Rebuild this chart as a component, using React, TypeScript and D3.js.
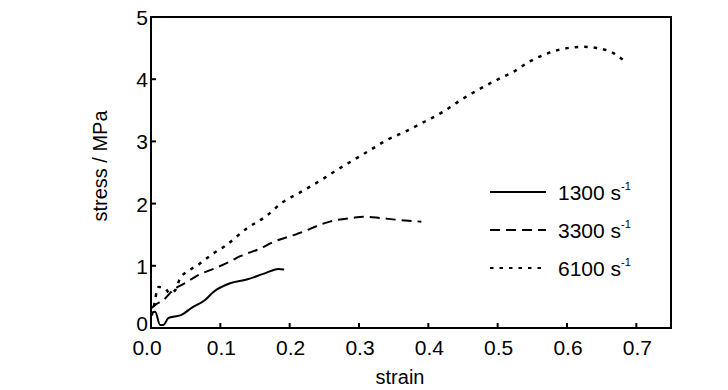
import React, { useEffect, useRef } from "react";
import * as d3 from "d3";

// strain / stress (MPa) readings per strain rate
const strain1300 = [0, 0.006, 0.013, 0.018, 0.025, 0.032, 0.044, 0.058, 0.078, 0.09, 0.114, 0.138, 0.162, 0.184, 0.192];
const stress1300 = [0.24, 0.26, 0.05, 0.05, 0.16, 0.18, 0.21, 0.32, 0.45, 0.58, 0.72, 0.78, 0.87, 0.95, 0.94];

const strain3300 = [0.001, 0.006, 0.018, 0.032, 0.049, 0.068, 0.09, 0.114, 0.128, 0.162, 0.172, 0.21, 0.22, 0.244, 0.258, 0.29, 0.306, 0.33, 0.355, 0.39];
const stress3300 = [0.32, 0.37, 0.45, 0.61, 0.72, 0.85, 0.95, 1.07, 1.15, 1.30, 1.36, 1.51, 1.55, 1.66, 1.71, 1.77, 1.79, 1.77, 1.74, 1.71];

const strain6100 = [0.001, 0.003, 0.011, 0.02, 0.027, 0.035, 0.042, 0.051, 0.066, 0.09, 0.107, 0.138, 0.165, 0.191, 0.215, 0.244, 0.268, 0.292, 0.316, 0.34, 0.369, 0.395, 0.422, 0.446, 0.472, 0.499, 0.523, 0.547, 0.571, 0.595, 0.624, 0.643, 0.667, 0.681];
const stress6100 = [0.2, 0.29, 0.66, 0.64, 0.56, 0.61, 0.80, 0.90, 1.0, 1.2, 1.32, 1.60, 1.79, 2.03, 2.18, 2.37, 2.54, 2.70, 2.86, 3.02, 3.17, 3.32, 3.48, 3.66, 3.83, 3.99, 4.12, 4.29, 4.41, 4.49, 4.52, 4.50, 4.42, 4.31];

const seriesNames = ["1300", "3300", "6100"];
const xTicks = [0, 0.1, 0.2, 0.3, 0.4, 0.5, 0.6, 0.7];
const yTicks = [0, 1, 2, 3, 4, 5];

const App = () => {
  const ref = useRef<SVGSVGElement>(null);

  useEffect(() => {
    const svg = d3.select(ref.current);
    svg.selectAll("*").remove();

    const width = 728;
    const height = 390;
    const margin = { top: 17, right: 57, bottom: 62, left: 151 };
    const font = "'Liberation Sans', Arial, sans-serif";

    const x = d3.scaleLinear().domain([0, 0.75]).range([margin.left, width - margin.right]);
    const y = d3.scaleLinear().domain([0, 5]).range([height - margin.bottom, margin.top]);

    svg
      .attr("width", width)
      .attr("height", height)
      .style("position", "absolute")
      .style("left", "0px")
      .style("top", "0px")
      .style("background", "#fff");

    const series = [
      { name: seriesNames[0], xs: strain1300, ys: stress1300, dash: null, w: 2 },
      { name: seriesNames[1], xs: strain3300, ys: stress3300, dash: "10,6", w: 2 },
      { name: seriesNames[2], xs: strain6100, ys: stress6100, dash: "3.5,6", w: 2.5 },
    ];

    const line = d3
      .line<[number, number]>()
      .x(d => x(d[0]))
      .y(d => y(d[1]))
      .curve(d3.curveMonotoneX);

    series.forEach(s => {
      const pts = s.xs.map((v, i) => [v, s.ys[i]] as [number, number]);
      svg
        .append("path")
        .attr("d", line(pts))
        .attr("fill", "none")
        .attr("stroke", "#000")
        .attr("stroke-width", s.w)
        .attr("stroke-dasharray", s.dash);
    });

    // frame
    svg
      .append("rect")
      .attr("x", x(0))
      .attr("y", y(5))
      .attr("width", x(0.75) - x(0))
      .attr("height", y(0) - y(5))
      .attr("fill", "none")
      .attr("stroke", "#000")
      .attr("stroke-width", 2);

    // x ticks
    const xt = svg.append("g");
    xTicks.forEach(t => {
      if (t > 0) {
        xt.append("line")
          .attr("x1", x(t)).attr("x2", x(t))
          .attr("y1", y(0)).attr("y2", y(0) - 5)
          .attr("stroke", "#000").attr("stroke-width", 2);
      }
      xt.append("text")
        .attr("x", t === 0 ? x(t) - 4 : x(t) + 1)
        .attr("y", y(0) + 27)
        .attr("text-anchor", "middle")
        .attr("font-family", font)
        .attr("font-size", 21)
        .text(t.toFixed(1));
    });

    // y ticks
    const yt = svg.append("g");
    yTicks.forEach(t => {
      if (t > 0 && t < 5) {
        yt.append("line")
          .attr("x1", x(0)).attr("x2", x(0) + 5)
          .attr("y1", y(t)).attr("y2", y(t))
          .attr("stroke", "#000").attr("stroke-width", 2);
      }
      yt.append("text")
        .attr("x", x(0) - 3)
        .attr("y", t === 0 ? y(t) + 3 : y(t) + 8)
        .attr("text-anchor", "end")
        .attr("font-family", font)
        .attr("font-size", 21)
        .text(t);
    });

    // axis titles
    svg
      .append("text")
      .attr("x", 400)
      .attr("y", 384)
      .attr("text-anchor", "middle")
      .attr("font-family", font)
      .attr("font-size", 20)
      .text("strain");

    svg
      .append("text")
      .attr("transform", "rotate(-90)")
      .attr("x", -166)
      .attr("y", 107)
      .attr("text-anchor", "middle")
      .attr("font-family", font)
      .attr("font-size", 20)
      .text("stress / MPa");

    // legend
    const legend = svg.append("g");
    series.forEach((s, i) => {
      const ly = 192 + i * 38;
      legend
        .append("line")
        .attr("x1", 490).attr("x2", 546)
        .attr("y1", ly).attr("y2", ly)
        .attr("stroke", "#000")
        .attr("stroke-width", 2)
        .attr("stroke-dasharray", s.dash);
      const txt = legend
        .append("text")
        .attr("x", 558)
        .attr("y", ly + 8)
        .attr("font-family", font)
        .attr("font-size", 21);
      txt.append("tspan").text(`${s.name} s`);
      txt.append("tspan").attr("dy", -10).attr("font-size", 11).text("-1");
    });
  }, []);

  return <svg ref={ref}></svg>;
};

export default App;
